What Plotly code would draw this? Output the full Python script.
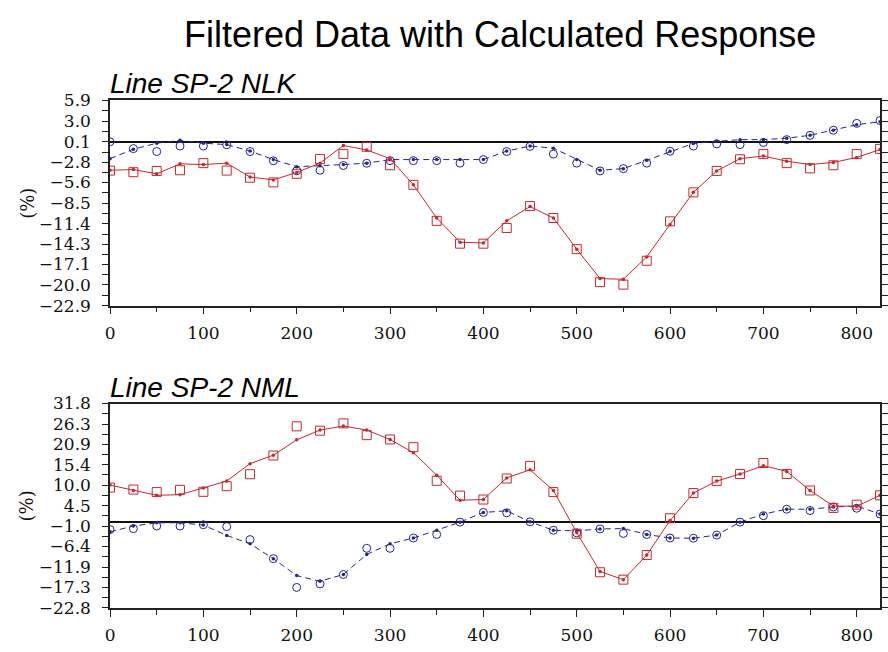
import plotly.graph_objects as go

# Station positions along each line
positions = [0, 25, 50, 75, 100, 125, 150, 175, 200, 225, 250, 275, 300, 325, 350,
             375, 400, 425, 450, 475, 500, 525, 550, 575, 600, 625, 650, 675, 700,
             725, 750, 775, 800, 825]

# Line SP-2 NLK : filtered data (markers) and calculated response (lines)
nlk_red_data = [-3.95, -4.17, -4.0, -3.9, -2.9, -3.95, -4.95, -5.6, -4.4, -2.33, -1.6, -0.6,
                -3.2, -5.94, -11.0, -14.2, -14.2, -12.0, -8.93, -10.6, -14.97, -19.6, -19.95,
                -16.6, -11.07, -7.0, -3.99, -2.36, -1.63, -2.9, -3.63, -3.2, -1.63, -0.9]
nlk_red_calc = [-3.9, -3.8, -4.4, -3.0, -3.1, -2.9, -4.85, -5.25, -4.2, -2.9, -0.42, -1.05,
                -2.27, -5.94, -10.6, -14.0, -14.1, -11.0, -9.0, -10.6, -14.97, -19.1, -19.2,
                -16.06, -11.5, -7.0, -3.99, -2.27, -1.9, -2.63, -3.09, -2.8, -2.1, -1.0]
nlk_blue_data = [0.1, -0.86, -1.27, -0.5, -0.5, -0.32, -1.27, -2.57, -3.97, -3.9, -3.23, -2.92,
                 -2.55, -2.55, -2.55, -2.9, -2.4, -1.27, -0.55, -1.63, -2.9, -4.0, -3.67, -2.9,
                 -1.23, -0.5, -0.2, -0.3, 0.0, 0.4, 1.0, 1.72, 2.68, 3.08]
nlk_blue_calc = [-2.27, -0.95, -0.1, 0.3, -0.1, -0.3, -1.2, -2.4, -3.4, -3.27, -3.1, -2.9,
                 -2.4, -2.4, -2.4, -2.4, -2.4, -1.2, -0.5, -0.8, -2.4, -3.9, -3.67, -2.5,
                 -1.23, -0.14, 0.17, 0.4, 0.4, 0.6, 1.0, 1.72, 2.5, 2.9]

# Line SP-2 NML
nml_red_data = [9.34, 8.8, 8.13, 8.73, 8.2, 9.7, 12.9, 17.9, 25.7, 24.55, 26.5, 23.35, 22.2,
                20.14, 11.15, 7.18, 6.14, 11.76, 15.13, 8.13, -3.0, -13.3, -15.28, -8.7, 1.13,
                7.87, 11.07, 12.97, 15.9, 12.97, 8.56, 3.9, 4.76, 7.26]
nml_red_calc = [10.0, 8.56, 7.26, 7.44, 9.25, 11.07, 15.73, 18.0, 22.1, 24.7, 25.8, 24.7, 22.2,
                18.67, 12.62, 5.97, 6.14, 11.93, 14.09, 8.56, -2.7, -13.1, -15.28, -8.7, 0.53,
                7.87, 11.07, 12.97, 15.2, 13.66, 8.56, 4.4, 4.33, 7.26]
nml_blue_data = [-1.9, -1.63, -0.94, -0.94, -0.6, -1.1, -4.57, -9.67, -17.36, -16.4, -13.9,
                 -6.9, -6.9, -4.14, -3.19, 0.1, 2.69, 2.6, 0.18, -2.07, -2.76, -1.72, -2.93,
                 -3.19, -4.14, -4.2, -3.36, 0.1, 1.82, 3.55, 3.2, 4.15, 3.81, 2.26]
nml_blue_calc = [-2.5, -0.94, -0.08, -0.08, -0.68, -3.45, -5.7, -9.67, -14.2, -15.7, -13.9,
                 -8.54, -5.7, -4.14, -2.07, 0.1, 2.69, 3.12, 0.18, -2.07, -2.24, -1.72, -1.63,
                 -3.19, -4.14, -4.2, -3.36, 0.1, 2.26, 3.55, 3.55, 4.15, 4.4, 2.26]

# Axis ticks
x_ticks = [0, 100, 200, 300, 400, 500, 600, 700, 800]
x_minor = [50, 150, 250, 350, 450, 550, 650, 750]
nlk_ticks = [5.9, 3.0, 0.1, -2.8, -5.6, -8.5, -11.4, -14.3, -17.1, -20.0, -22.9]
nlk_labels = ["5.9", "3.0", "0.1", "\u22122.8", "\u22125.6", "\u22128.5", "\u221211.4",
              "\u221214.3", "\u221217.1", "\u221220.0", "\u221222.9"]
nml_ticks = [31.8, 26.3, 20.9, 15.4, 10.0, 4.5, -1.0, -6.4, -11.9, -17.3, -22.8]
nml_labels = ["31.8", "26.3", "20.9", "15.4", "10.0", "4.5", "\u22121.0", "\u22126.4",
              "\u221211.9", "\u221217.3", "\u221222.8"]

title_text = "Filtered Data with Calculated Response"
panel_titles = ["Line SP-2 NLK", "Line SP-2 NML"]
y_label = "(%)"

RED = "#c8282d"
BLUE = "#25258f"
AXIS = "#222222"
TICK_FONT = dict(family="DejaVu Serif", size=17, color="#111111")

W, H = 888, 652
x_dom = [106 / W, 883 / W]
top_dom = [1 - 305 / H, 1 - 93.3 / H]
bot_dom = [1 - 616.7 / H, 1 - 406 / H]

fig = go.Figure()


def add_panel(xref, yref, red_d, red_c, blue_d, blue_c):
    fig.add_trace(go.Scatter(x=positions, y=blue_c, mode="lines+markers", xaxis=xref, yaxis=yref,
                             line=dict(color=BLUE, width=1, dash="6px,4px"),
                             marker=dict(size=3.5, color=BLUE), showlegend=False))
    fig.add_trace(go.Scatter(x=positions, y=blue_d, mode="markers", xaxis=xref, yaxis=yref,
                             marker=dict(symbol="circle-open", size=8, color=BLUE,
                                         line=dict(width=1)), showlegend=False))
    fig.add_trace(go.Scatter(x=positions, y=red_c, mode="lines+markers", xaxis=xref, yaxis=yref,
                             line=dict(color=RED, width=1),
                             marker=dict(size=3.5, color=RED), showlegend=False))
    fig.add_trace(go.Scatter(x=positions, y=red_d, mode="markers", xaxis=xref, yaxis=yref,
                             marker=dict(symbol="square-open", size=9, color=RED,
                                         line=dict(width=1)), showlegend=False))


add_panel("x", "y", nlk_red_data, nlk_red_calc, nlk_blue_data, nlk_blue_calc)
add_panel("x2", "y2", nml_red_data, nml_red_calc, nml_blue_data, nml_blue_calc)


def x_axis(anchor):
    return dict(domain=x_dom, anchor=anchor, range=[0, 825], tickmode="array", tickvals=x_ticks,
                ticks="outside", ticklen=7, tickwidth=1, tickcolor=AXIS,
                minor=dict(tickvals=x_minor, ticks="outside", ticklen=5, tickwidth=1,
                           tickcolor=AXIS),
                showline=True, linecolor=AXIS, linewidth=1.5, mirror=True,
                showgrid=False, zeroline=False, tickfont=TICK_FONT, ticklabelstandoff=4)


def y_axis(anchor, dom, ticks, labels):
    lo, hi = ticks[-1], ticks[0]
    mids = [(a + b) / 2 for a, b in zip(ticks[:-1], ticks[1:])]
    return dict(domain=dom, anchor=anchor, range=[lo, hi], tickmode="array", tickvals=ticks,
                ticktext=labels, ticks="outside", ticklen=6, tickwidth=1, tickcolor=AXIS,
                minor=dict(tickvals=mids, ticks="outside", ticklen=6, tickwidth=1,
                           tickcolor=AXIS),
                showline=True, linecolor=AXIS, linewidth=1.5, mirror="allticks",
                showgrid=False, zeroline=True, zerolinecolor="#111111", zerolinewidth=1.5,
                tickfont=TICK_FONT, ticklabelstandoff=8)


annotations = [
    dict(text=title_text, x=500 / W, y=1 - 25 / H, xref="paper", yref="paper",
         xanchor="center", yanchor="middle", showarrow=False,
         font=dict(family="Liberation Sans", size=36, color="#000000")),
]
for t, ytop in zip(panel_titles, [93.3, 406]):
    annotations.append(dict(text=t, x=104 / W, y=1 - (ytop - 17) / H, xref="paper",
                            yref="paper", xanchor="left", yanchor="middle", showarrow=False,
                            font=dict(family="Liberation Sans", size=28, color="#000000",
                                      style="italic")))
for yc in [(93.3 + 305) / 2, (406 + 616.7) / 2]:
    annotations.append(dict(text=y_label, x=22 / W, y=1 - yc / H, xref="paper", yref="paper",
                            xanchor="center", yanchor="middle", textangle=-90,
                            showarrow=False,
                            font=dict(family="DejaVu Serif", size=18, color="#111111")))

fig.update_layout(
    width=W, height=H, margin=dict(l=0, r=0, t=0, b=0),
    paper_bgcolor="white", plot_bgcolor="white",
    xaxis=x_axis("y"), yaxis=y_axis("x", top_dom, nlk_ticks, nlk_labels),
    xaxis2=x_axis("y2"), yaxis2=y_axis("x2", bot_dom, nml_ticks, nml_labels),
    annotations=annotations, showlegend=False,
)

fig.write_html("out.html")
